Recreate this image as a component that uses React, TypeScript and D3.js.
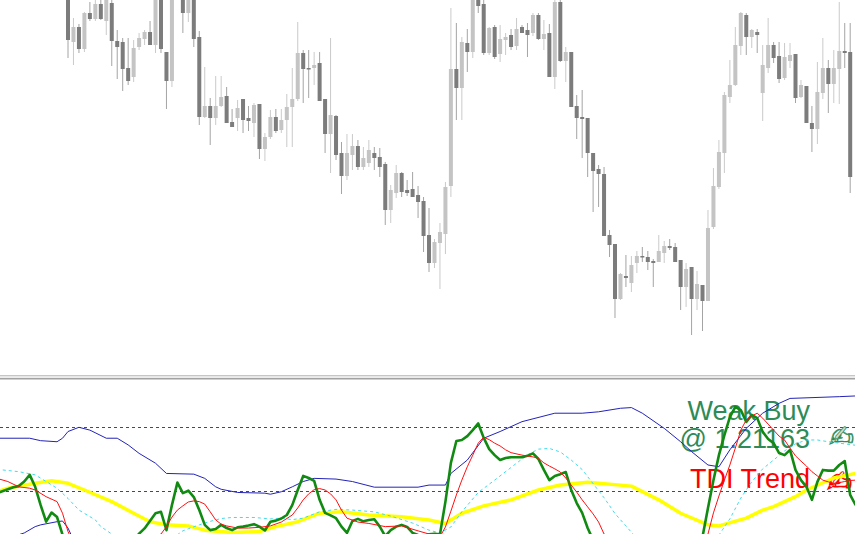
import React, { useEffect, useRef } from 'react';
import * as d3 from 'd3';

const W = 855;
const H = 534;

// candles, prices in points (1500 = top edge of the price window)
const opens = [
  1510, 1458, 1473, 1451, 1487, 1481, 1496, 1479, 1497, 1459,
  1458, 1432, 1423, 1453, 1461, 1468, 1455, 1510, 1448, 1419,
  1508, 1520, 1487, 1508, 1463, 1383, 1394, 1382, 1394, 1404,
  1378, 1382, 1401, 1382, 1377, 1396, 1351, 1363, 1383, 1370,
  1380, 1393, 1401, 1447, 1432, 1432, 1437, 1401, 1366, 1384,
  1347, 1324, 1345, 1354, 1333, 1337, 1347, 1343, 1336, 1290,
  1307, 1327, 1310, 1311, 1305, 1299, 1265, 1237, 1257, 1266,
  1314, 1431, 1412, 1457, 1448, 1510, 1496, 1447, 1473, 1446,
  1460, 1465, 1454, 1473, 1470, 1467, 1485, 1461, 1467, 1423,
  1498, 1439, 1448, 1394, 1383, 1382, 1347, 1331, 1326, 1265,
  1256, 1201, 1224, 1217, 1237, 1244, 1243, 1239, 1238, 1247,
  1254, 1253, 1240, 1213, 1233, 1201, 1215, 1199, 1273, 1313,
  1347, 1403, 1415, 1454, 1485, 1463, 1468, 1407, 1432, 1455,
  1444, 1422, 1439, 1446, 1403, 1414, 1377, 1371, 1407, 1432,
  1416, 1431, 1449, 1448
];
const highs = [
  1515, 1482, 1476, 1488, 1498, 1503, 1502, 1508, 1505, 1470,
  1462, 1462, 1460, 1467, 1470, 1479, 1520, 1515, 1448, 1520,
  1535, 1528, 1518, 1512, 1469, 1433, 1402, 1424, 1424, 1413,
  1391, 1400, 1401, 1394, 1397, 1396, 1367, 1390, 1391, 1391,
  1406, 1432, 1478, 1450, 1450, 1448, 1448, 1401, 1462, 1385,
  1358, 1366, 1366, 1360, 1353, 1360, 1353, 1352, 1338, 1315,
  1335, 1328, 1320, 1328, 1314, 1303, 1292, 1261, 1277, 1318,
  1492, 1477, 1463, 1471, 1515, 1518, 1503, 1473, 1475, 1475,
  1467, 1471, 1482, 1475, 1477, 1487, 1487, 1480, 1476, 1503,
  1502, 1453, 1448, 1405, 1410, 1382, 1347, 1335, 1333, 1270,
  1256, 1227, 1245, 1244, 1249, 1253, 1249, 1241, 1265, 1259,
  1261, 1257, 1240, 1237, 1233, 1229, 1215, 1290, 1332, 1360,
  1408, 1440, 1473, 1488, 1487, 1471, 1471, 1455, 1482, 1458,
  1458, 1457, 1457, 1446, 1420, 1414, 1394, 1438, 1462, 1440,
  1450, 1498, 1477, 1477
];
const lows = [
  1442, 1435, 1447, 1448, 1479, 1479, 1480, 1465, 1434, 1421,
  1409, 1415, 1418, 1450, 1455, 1455, 1447, 1447, 1391, 1413,
  1503, 1467, 1478, 1453, 1375, 1382, 1355, 1375, 1393, 1377,
  1373, 1369, 1367, 1369, 1363, 1341, 1339, 1361, 1367, 1367,
  1353, 1353, 1399, 1397, 1402, 1415, 1399, 1347, 1327, 1340,
  1306, 1320, 1330, 1330, 1330, 1333, 1330, 1323, 1275, 1277,
  1302, 1303, 1304, 1303, 1282, 1248, 1228, 1232, 1211, 1246,
  1303, 1380, 1380, 1428, 1442, 1487, 1445, 1445, 1441, 1438,
  1445, 1450, 1450, 1467, 1443, 1464, 1460, 1450, 1423, 1411,
  1438, 1418, 1393, 1361, 1342, 1323, 1288, 1293, 1264, 1243,
  1182, 1200, 1213, 1208, 1227, 1238, 1230, 1213, 1238, 1237,
  1250, 1238, 1190, 1193, 1165, 1190, 1169, 1199, 1271, 1311,
  1327, 1397, 1414, 1445, 1445, 1452, 1447, 1379, 1427, 1437,
  1417, 1420, 1432, 1397, 1402, 1377, 1348, 1356, 1401, 1387,
  1397, 1396, 1432, 1307
];
const closes = [
  1460, 1473, 1451, 1487, 1481, 1496, 1481, 1502, 1459, 1453,
  1431, 1419, 1452, 1462, 1468, 1455, 1510, 1451, 1419, 1512,
  1525, 1487, 1510, 1461, 1383, 1394, 1382, 1394, 1403, 1377,
  1373, 1392, 1380, 1379, 1395, 1351, 1363, 1383, 1369, 1380,
  1393, 1401, 1447, 1431, 1431, 1435, 1399, 1366, 1385, 1345,
  1324, 1347, 1354, 1333, 1342, 1350, 1342, 1333, 1290, 1310,
  1327, 1308, 1307, 1303, 1298, 1264, 1237, 1258, 1268, 1313,
  1431, 1412, 1458, 1448, 1505, 1494, 1447, 1472, 1443, 1461,
  1463, 1453, 1471, 1467, 1465, 1485, 1461, 1466, 1423, 1498,
  1439, 1448, 1393, 1382, 1381, 1347, 1329, 1326, 1264, 1255,
  1201, 1226, 1222, 1235, 1244, 1243, 1238, 1237, 1249, 1254,
  1252, 1238, 1213, 1231, 1201, 1216, 1199, 1272, 1314, 1348,
  1405, 1415, 1455, 1487, 1463, 1470, 1465, 1435, 1455, 1442,
  1421, 1443, 1445, 1402, 1415, 1377, 1371, 1408, 1432, 1416,
  1432, 1449, 1447, 1323
];

// TDI lines as [bar, value]
const upperBand: [number, number][] = [
  [-13, 64.9], [-7, 64.9], [-5, 64.2], [-2, 63.9], [-1, 64.9], [0, 66.8], [2, 68.0], [4, 67.2],
  [7, 64.9], [9, 64.9], [11, 63.0], [13, 60.6], [16, 57.8], [18, 54.9], [23, 54.7], [25, 53.5],
  [27, 51.1], [28, 50.4], [31, 49.5], [36, 49.3], [37, 49.0], [39, 49.7], [41, 51.1], [43, 52.6],
  [45, 53.5], [49, 53.3], [52, 52.6], [56, 51.0], [64, 51.0], [66, 51.6], [69, 51.6], [70, 54.9],
  [73, 58.7], [76, 64.9], [79, 66.8], [83, 69.6], [89, 72.0], [94, 72.0], [97, 72.4], [101, 73.4],
  [103, 73.6], [105, 72.0], [109, 67.7], [112, 63.9], [114, 61.1], [117, 57.3], [119, 56.8],
  [121, 61.6], [124, 67.7], [127, 72.0], [130, 74.8], [132, 76.2], [141, 76.7], [144, 76.9]
];
const lowerBand: [number, number][] = [
  [-10, 37.0], [-8, 38.0], [-6, 39.8], [-5, 40.3], [-2, 41.2], [-1, 41.4], [0, 39.4], [1, 36.0], [4, 32.0]
];
const baseLine: [number, number][] = [
  [-13, 49.7], [-11, 50.7], [-6, 52.1], [-3, 52.8], [0, 52.1], [3, 50.2], [8, 46.9], [12, 43.6],
  [15, 41.2], [18, 40.3], [22, 40.0], [25, 38.8], [30, 38.1], [35, 38.4], [38, 39.8], [42, 41.2],
  [46, 43.6], [50, 44.0], [55, 43.1], [61, 42.6], [66, 41.7], [69, 40.7], [72, 43.6], [76, 45.7],
  [81, 47.4], [86, 50.2], [90, 51.6], [95, 52.4], [103, 51.3], [108, 47.4], [112, 43.6], [117, 40.3],
  [119, 40.0], [124, 42.2], [127, 44.5], [129, 45.5], [133, 48.3], [135, 50.2], [140, 53.6], [144, 54.9]
];
const cyanLine: [number, number][] = [
  [-13, 56.2], [-12, 55.9], [-9, 55.4], [-6, 54.5], [-4, 52.6], [-2, 50.7], [0, 47.8], [2, 44.5],
  [5, 41.7], [6, 39.8], [8, 37.7], [10, 35], [14, 33], [20, 37.5], [21, 38.6], [22, 39.2], [24, 40.3],
  [26, 41.3], [28, 42.1], [30, 42.4], [34, 42.4], [37, 42.0], [39, 42.2], [41, 41.8], [43, 42.2],
  [46, 44.0], [49, 44.7], [52, 44.5], [56, 44.0], [59, 42.8], [63, 40.8], [66, 38.8], [68, 38.0],
  [70, 39.7], [72, 44.0], [75, 49.5], [78, 53.0], [81, 56.6], [84, 60.2], [86, 61.8], [88, 62.0],
  [90, 61.0], [92, 58.7], [94, 56.0], [96, 52.0], [98, 48.0], [100, 43.5], [102, 40.0], [103, 38.2],
  [105, 35], [112, 30], [119, 37.4], [121, 42.0], [123, 47.9], [125, 52.5], [127, 56.2], [129, 58.7],
  [131, 61.3], [133, 63.3], [135, 64.4], [137, 64.4], [139, 63.9], [141, 63.5], [144, 62.9]
];
const rsiLine: [number, number][] = [
  [-13, 49.3], [-11, 50.4], [-10, 51.0], [-9, 51.3], [-8, 52.6], [-7, 54.5], [-6, 51.1], [-5, 45.9],
  [-4, 41.2], [-3, 43.8], [-2, 42.5], [-1, 37.5], [0, 35.5], [6, 30], [12, 36.0], [13, 37.8],
  [14, 39.3], [16, 43.6], [17, 44.0], [18, 38.8], [19, 45.9], [20, 52.3], [21, 49.3], [22, 50.0],
  [23, 48.2], [24, 44.5], [25, 40.3], [26, 38.8], [27, 39.1], [28, 40.3], [29, 39.4], [30, 38.8],
  [31, 39.6], [32, 39.8], [33, 40.1], [34, 40.5], [35, 39.8], [36, 38.7], [37, 41.2], [38, 41.5],
  [39, 42.1], [40, 43.1], [41, 45.9], [42, 50.2], [43, 54.2], [44, 53.6], [45, 52.8], [46, 47.4],
  [47, 43.7], [48, 43.0], [49, 42.2], [50, 39.8], [51, 38.0], [52, 41.4], [53, 42.0], [54, 41.3],
  [55, 41.7], [56, 41.9], [57, 39.8], [58, 37.1], [59, 38.8], [60, 39.8], [61, 40.3], [62, 39.7],
  [63, 38.0], [64, 37.4], [65, 37.2], [66, 37.6], [67, 37.8], [68, 37.6], [69, 46.9], [70, 57.9],
  [71, 64.1], [72, 64.4], [73, 65.5], [74, 67.2], [75, 69.1], [76, 65.0], [77, 61.8], [78, 60.1],
  [79, 58.7], [80, 59.3], [81, 59.5], [82, 59.5], [83, 59.5], [84, 59.9], [85, 60.6], [86, 59.0],
  [87, 55.9], [88, 53.0], [89, 54.2], [90, 54.7], [91, 55.3], [92, 50.2], [93, 46.5], [94, 43.7],
  [95, 39.4], [96, 36.0], [100, 30], [110, 28], [115, 33], [116, 36.9], [117, 45.1], [118, 53.0],
  [119, 60.1], [120, 65.8], [121, 70.9], [122, 73.8], [123, 72.9], [124, 69.5], [125, 71.5],
  [126, 70.6], [127, 66.7], [128, 64.7], [129, 63.5], [130, 60.7], [131, 60.1], [132, 61.6],
  [133, 55.9], [134, 53.0], [135, 51.1], [136, 47.4], [137, 52.5], [138, 55.9], [139, 55.7],
  [140, 55.7], [141, 57.3], [142, 58.4], [143, 48.8], [144, 45.9]
];
const signalLine: [number, number][] = [
  [-13, 53.5], [-11, 52.6], [-9, 51.1], [-7, 50.7], [-6, 50.2], [-4, 48.3], [-2, 46.9], [-1, 43.6],
  [0, 38.4], [1, 35], [8, 30], [17, 37.7], [18, 39.8], [19, 42.5], [20, 44.5], [21, 45.7], [22, 46.8],
  [23, 47.1], [24, 46.9], [25, 46.2], [26, 44.0], [27, 41.7], [28, 40.5], [29, 40.0], [31, 39.4],
  [33, 39.4], [35, 39.6], [37, 40.0], [39, 41.1], [41, 43.1], [42, 45.1], [43, 47.4], [44, 49.1],
  [45, 50.3], [46, 50.6], [47, 50.2], [48, 49.1], [49, 47.4], [50, 44.5], [51, 42.2], [53, 41.1],
  [55, 40.7], [58, 39.8], [61, 40.0], [64, 38.6], [66, 37.7], [68, 36.9], [69, 39.7], [70, 44.2],
  [71, 48.8], [72, 53.0], [73, 56.8], [74, 60.1], [75, 63.5], [76, 65.2], [77, 64.5], [78, 63.5],
  [79, 62.7], [80, 61.6], [81, 60.8], [83, 60.1], [85, 59.6], [86, 59.2], [87, 57.9], [88, 57.0],
  [89, 56.2], [90, 55.3], [91, 53.6], [92, 51.6], [93, 49.6], [94, 47.4], [95, 45.4], [96, 43.4],
  [97, 41.1], [98, 37.7], [103, 32], [112, 30], [117, 37.7], [118, 43.7], [119, 48.5], [120, 53.0],
  [121, 57.3], [122, 62.1], [123, 67.2], [124, 70.1], [125, 71.2], [126, 72.0], [127, 70.6],
  [128, 68.9], [129, 67.2], [130, 65.5], [131, 64.4], [132, 62.1], [133, 59.9], [134, 58.4],
  [135, 57.0], [136, 55.4], [137, 54.2], [138, 53.0], [139, 52.5], [140, 52.1], [141, 52.3],
  [142, 52.6], [143, 52.9], [144, 53.0]
];

const levels = [68, 50];
const signalLabels = ['Weak Buy', '@ 1.21163'];
const trendLabel = 'TDI Trend';

export default function App() {
  const ref = useRef<SVGSVGElement>(null);

  useEffect(() => {
    const svg = d3.select(ref.current);
    svg.selectAll('*').remove();

    const x = d3.scaleLinear().domain([0, opens.length - 1]).range([68, 850.2]);
    const yPrice = d3.scaleLinear().domain([1500, 1160]).range([0, 340]);
    const yTdi = d3.scaleLinear().domain([50, 68]).range([490.7, 427.3]);

    const defs = svg.append('defs');
    defs.append('clipPath').attr('id', 'clipMain')
      .append('rect').attr('x', 0).attr('y', 0).attr('width', W).attr('height', 375);
    defs.append('clipPath').attr('id', 'clipSub')
      .append('rect').attr('x', 0).attr('y', 380).attr('width', W).attr('height', H - 380);

    svg.append('rect').attr('width', W).attr('height', H).attr('fill', '#fff');

    // ---- candles
    const candles = opens.map((o, i) => ({ i, o, h: highs[i], l: lows[i], c: closes[i] }));
    const main = svg.append('g').attr('clip-path', 'url(#clipMain)');

    main.selectAll('line.wick')
      .data(candles)
      .enter()
      .append('line')
        .attr('x1', d => x(d.i))
        .attr('x2', d => x(d.i))
        .attr('y1', d => yPrice(d.h))
        .attr('y2', d => yPrice(d.l))
        .attr('stroke', d => (d.c >= d.o ? '#c4c4c4' : '#9a9a9a'))
        .attr('stroke-width', 0.9);

    main.selectAll('rect.body')
      .data(candles)
      .enter()
      .append('rect')
        .attr('x', d => x(d.i) - 2)
        .attr('width', 4)
        .attr('y', d => yPrice(Math.max(d.o, d.c)))
        .attr('height', d => Math.max(1.5, Math.abs(yPrice(d.o) - yPrice(d.c))))
        .attr('fill', d => (d.c >= d.o ? '#c4c4c4' : '#7c7c7c'));

    // ---- separator between windows
    svg.append('rect').attr('x', 0).attr('y', 375).attr('width', W).attr('height', 1.5).attr('fill', '#c6c6c6');
    svg.append('rect').attr('x', 0).attr('y', 376.5).attr('width', W).attr('height', 1.5).attr('fill', '#ececec');
    svg.append('rect').attr('x', 0).attr('y', 378).attr('width', W).attr('height', 1.5).attr('fill', '#a2a2a2');

    // ---- indicator window
    const sub = svg.append('g').attr('clip-path', 'url(#clipSub)');

    sub.selectAll('line.level')
      .data(levels)
      .enter()
      .append('line')
        .attr('x1', 0)
        .attr('x2', W)
        .attr('y1', d => Math.round(yTdi(d)) + 0.5)
        .attr('y2', d => Math.round(yTdi(d)) + 0.5)
        .attr('stroke', '#4a4a4a')
        .attr('stroke-dasharray', '3,3');

    // labels
    const font = '"Liberation Sans", Arial, sans-serif';
    sub.selectAll('text.sig')
      .data(signalLabels)
      .enter()
      .append('text')
        .attr('x', 810)
        .attr('y', (d, i) => 420 + i * 28)
        .attr('text-anchor', 'end')
        .attr('font-family', font)
        .attr('font-size', 27)
        .attr('fill', '#2e8b57')
        .text(d => d);

    sub.append('text')
      .attr('x', 810)
      .attr('y', 488)
      .attr('text-anchor', 'end')
      .attr('font-family', font)
      .attr('font-size', 27)
      .attr('fill', '#ff0000')
      .text(trendLabel);

    // signal glyphs at the right edge
    sub.append('text')
      .attr('x', 829).attr('y', 447)
      .attr('font-family', '"DejaVu Sans"').attr('font-size', 30)
      .attr('fill', '#cfe0cf').attr('stroke', '#2e8b57').attr('stroke-width', 0.7)
      .text('\u270D');
    sub.append('text')
      .attr('x', 827).attr('y', 492)
      .attr('font-family', '"DejaVu Sans"').attr('font-size', 30)
      .attr('fill', 'none').attr('stroke', '#ff0000').attr('stroke-width', 0.9)
      .text('\u270D');

    const lineGen = d3.line<[number, number]>()
      .x(d => x(d[0]))
      .y(d => yTdi(d[1]));

    const series = [
      { data: upperBand, color: '#2323b8', width: 1, dash: null },
      { data: lowerBand, color: '#2323b8', width: 1, dash: null },
      { data: baseLine, color: '#ffff00', width: 3.5, dash: null },
      { data: cyanLine, color: '#3fdcec', width: 1, dash: '3,3' },
      { data: rsiLine, color: '#118a11', width: 2.6, dash: null },
      { data: signalLine, color: '#ff1010', width: 1, dash: null }
    ];

    series.forEach(s => {
      sub.append('path')
        .attr('d', lineGen(s.data))
        .attr('fill', 'none')
        .attr('stroke', s.color)
        .attr('stroke-width', s.width)
        .attr('stroke-linejoin', 'round')
        .attr('stroke-dasharray', s.dash);
    });
  }, []);

  return (
    <svg
      ref={ref}
      width={W}
      height={H}
      style={{ position: 'absolute', left: 0, top: 0, display: 'block' }}
    />
  );
}
